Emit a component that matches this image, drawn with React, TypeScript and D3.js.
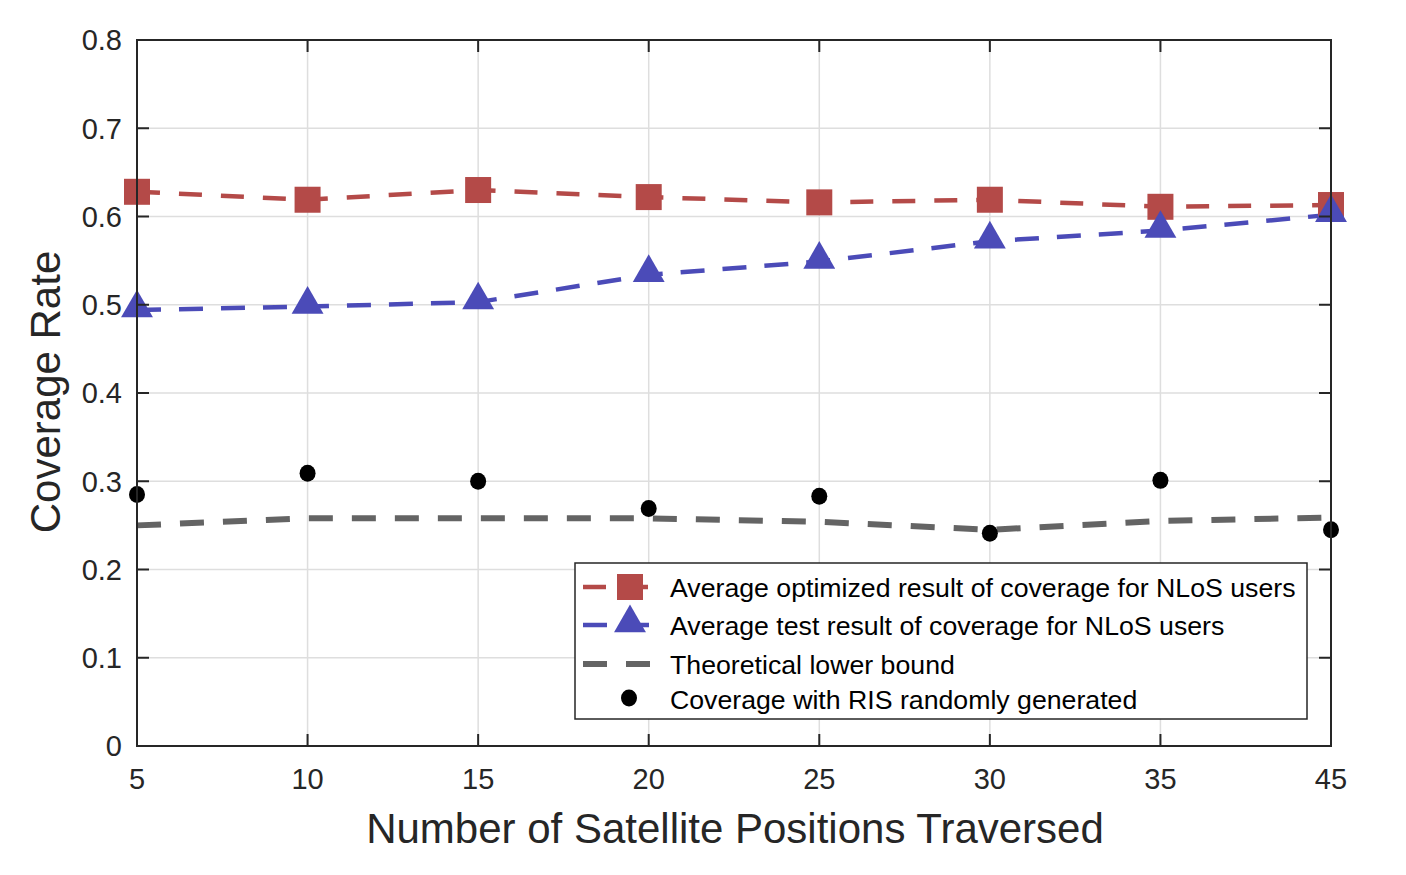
import React from 'react';
import * as d3 from 'd3';

const positions = ['5', '10', '15', '20', '25', '30', '35', '45'];
const optimized = [0.628, 0.619, 0.630, 0.622, 0.616, 0.619, 0.611, 0.613];
const tested = [0.494, 0.498, 0.503, 0.534, 0.549, 0.572, 0.584, 0.602];
const lowerBound = [0.250, 0.258, 0.258, 0.258, 0.254, 0.245, 0.255, 0.259];
const randomRis = [0.285, 0.309, 0.300, 0.269, 0.283, 0.241, 0.301, 0.245];
const yTicks = [0, 0.1, 0.2, 0.3, 0.4, 0.5, 0.6, 0.7, 0.8];

const legendLabels = [
  'Average optimized result of coverage for NLoS users',
  'Average test result of coverage for NLoS users',
  'Theoretical lower bound',
  'Coverage with RIS randomly generated',
];

const RED = '#b44a48';
const BLUE = '#4b4bb8';
const GRAY = '#646464';
const AXIS = '#262626';
const FONT = 'Arial, "Liberation Sans", Helvetica, sans-serif';

export default function App() {
  const W = 1406, H = 875;
  const m = { left: 137, right: 1331, top: 40, bottom: 746 };
  const x = d3.scalePoint<string>().domain(positions).range([m.left, m.right]);
  const y = d3.scaleLinear().domain([0, 0.8]).range([m.bottom, m.top]);
  const line = d3.line<number>().x((_, i) => x(positions[i])!).y(d => y(d));

  const tri = d3.symbol().type(d3.symbolTriangle).size(440)()!;

  const legendRows = [587, 625, 664, 699];

  return (
    <svg width={W} height={H} style={{ position: 'absolute', left: 0, top: 0, background: '#fff' }} fontFamily={FONT}>
      {/* grid */}
      {positions.map(p => (
        <line key={'gx' + p} x1={x(p)} x2={x(p)} y1={m.top} y2={m.bottom} stroke="#dedede" strokeWidth={1.5} />
      ))}
      {yTicks.map(t => (
        <line key={'gy' + t} x1={m.left} x2={m.right} y1={y(t)} y2={y(t)} stroke="#dedede" strokeWidth={1.5} />
      ))}

      {/* series lines */}
      <path d={line(lowerBound)!} fill="none" stroke={GRAY} strokeWidth={6} strokeDasharray="24 19" />
      <path d={line(optimized)!} fill="none" stroke={RED} strokeWidth={4.5} strokeDasharray="23 19" />
      <path d={line(tested)!} fill="none" stroke={BLUE} strokeWidth={4.5} strokeDasharray="24 18" />

      {/* markers */}
      {optimized.map((v, i) => (
        <rect key={'sq' + i} x={x(positions[i])! - 13} y={y(v) - 13} width={26} height={26} fill={RED} />
      ))}
      {tested.map((v, i) => (
        <path key={'tr' + i} d={tri} transform={`translate(${x(positions[i])},${y(v) - 2})`} fill={BLUE} />
      ))}
      {randomRis.map((v, i) => (
        <ellipse key={'dt' + i} cx={x(positions[i])} cy={y(v)} rx={8} ry={8.5} fill="#000" />
      ))}

      {/* axes box and ticks */}
      <rect x={m.left} y={m.top} width={m.right - m.left} height={m.bottom - m.top} fill="none" stroke={AXIS} strokeWidth={2} />
      {yTicks.map(t => (
        <g key={'ty' + t}>
          <line x1={m.left} x2={m.left + 12} y1={y(t)} y2={y(t)} stroke={AXIS} strokeWidth={2} />
          <line x1={m.right} x2={m.right - 12} y1={y(t)} y2={y(t)} stroke={AXIS} strokeWidth={2} />
          <text x={m.left - 15} y={y(t)} dy="0.36em" textAnchor="end" fontSize={29} fill={AXIS}>{t === 0 ? '0' : t.toFixed(1)}</text>
        </g>
      ))}
      {positions.map(p => (
        <g key={'tx' + p}>
          <line x1={x(p)} x2={x(p)} y1={m.bottom} y2={m.bottom - 12} stroke={AXIS} strokeWidth={2} />
          <line x1={x(p)} x2={x(p)} y1={m.top} y2={m.top + 12} stroke={AXIS} strokeWidth={2} />
          <text x={x(p)} y={m.bottom + 33} dy="0.36em" textAnchor="middle" fontSize={29} fill={AXIS}>{p}</text>
        </g>
      ))}

      {/* axis labels */}
      <text x={735} y={828} dy="0.36em" textAnchor="middle" fontSize={42} fill={AXIS}>Number of Satellite Positions Traversed</text>
      <text transform={`translate(45,392) rotate(-90)`} dy="0.36em" textAnchor="middle" fontSize={42} fill={AXIS}>Coverage Rate</text>

      {/* legend */}
      <rect x={575} y={563} width={732} height={156} fill="#fff" stroke={AXIS} strokeWidth={1.5} />
      <line x1={583} x2={652} y1={legendRows[0]} y2={legendRows[0]} stroke={RED} strokeWidth={4.5} strokeDasharray="23 19" />
      <rect x={617} y={legendRows[0] - 13} width={26} height={26} fill={RED} />
      <line x1={583} x2={652} y1={legendRows[1]} y2={legendRows[1]} stroke={BLUE} strokeWidth={4.5} strokeDasharray="24 18" />
      <path d={tri} transform={`translate(630,${legendRows[1] - 2})`} fill={BLUE} />
      <line x1={583} x2={652} y1={legendRows[2]} y2={legendRows[2]} stroke={GRAY} strokeWidth={6} strokeDasharray="24 19" />
      <ellipse cx={629} cy={legendRows[3] - 1} rx={8} ry={8.5} fill="#000" />
      {legendLabels.map((l, i) => (
        <text key={l} x={670} y={legendRows[i]} dy="0.36em" fontSize={26.7} fill="#000">{l}</text>
      ))}
    </svg>
  );
}
